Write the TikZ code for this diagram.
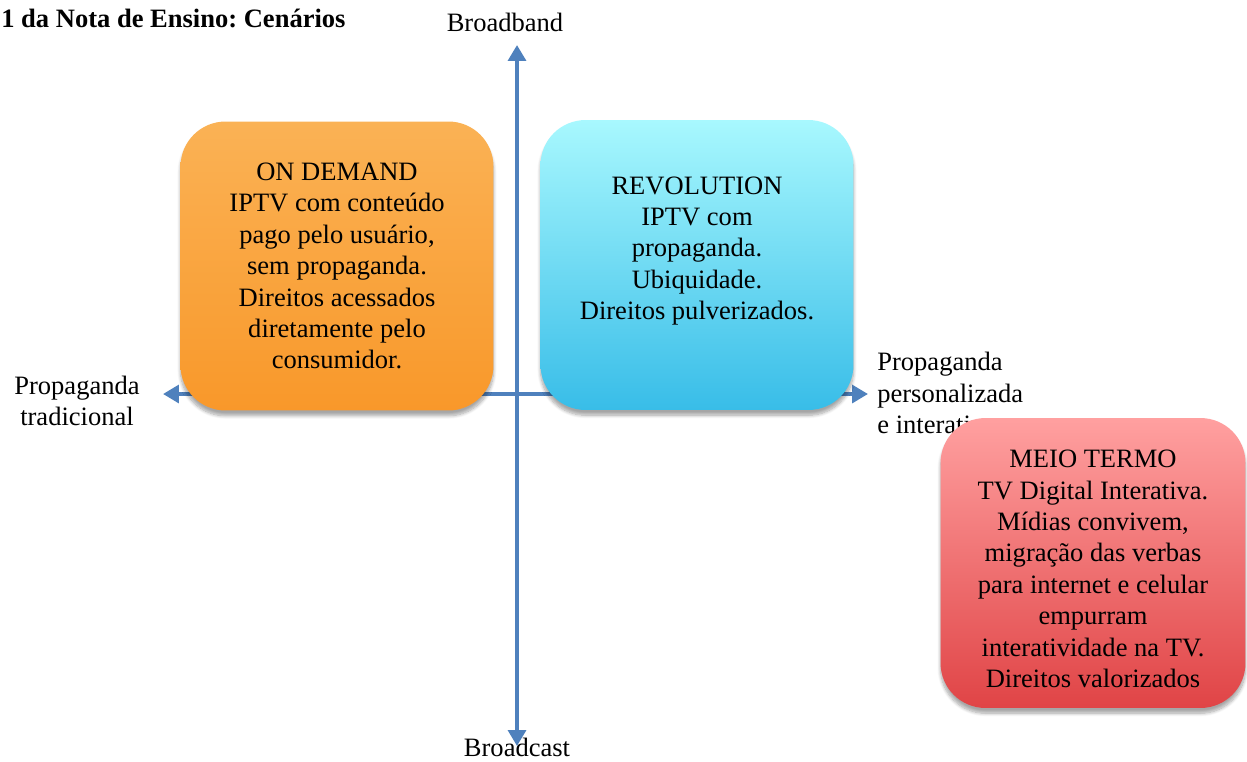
\documentclass[tikz,border=0pt]{standalone}
\usepackage{fontspec}
\setmainfont{Liberation Serif}
\usetikzlibrary{arrows.meta,shadows.blur}
\definecolor{axisblue}{RGB}{79,129,189}
\frenchspacing
\begin{document}
\begin{tikzpicture}[x=0.02cm,y=-0.02cm,
  font=\fontsize{15.1}{17.9}\selectfont,
  axis/.style={axisblue, line width=2.8pt, -{Triangle[width=10pt,length=9pt]}},
  box/.style={rounded corners=0.9cm, minimum width=6.26cm, minimum height=5.78cm,
    blur shadow={shadow xshift=0pt, shadow yshift=-3pt, shadow blur steps=8, shadow opacity=35}},
  boxtext/.style={align=center, inner sep=0pt},
  lbl/.style={inner sep=0pt}]
\useasboundingbox (0,0) rectangle (1247,761);
% titulo e eixos
\node[lbl, anchor=west, font=\fontsize{15.1}{17.9}\selectfont\bfseries] (title) at (1,18) {1 da Nota de Ensino: Cenários};
\node[lbl] (broadband) at (505,22) {Broadband};
\node[lbl] (broadcast) at (517,747) {Broadcast};
\node[lbl, align=center] (tradicional) at (77,401) {Propaganda\\ tradicional};
\node[lbl, align=left, anchor=west] (personalizada) at (877,393) {Propaganda\\personalizada\\e interativa};
\coordinate (origin) at (517,394);
\coordinate (top) at (517,45);
\coordinate (bottom) at (517,746);
\coordinate (left) at (163,394);
\coordinate (right) at (868,394);
\draw[axis] (origin) -- (top);
\draw[axis] (origin) -- (bottom);
\draw[axis] (origin) -- (left);
\draw[axis] (origin) -- (right);
% cenarios
\node[box, top color={rgb,255:red,250;green,178;blue,85}, bottom color={rgb,255:red,249;green,152;blue,42}] (ondemand) at (337,266) {};
\node[box, minimum height=5.8cm, top color={rgb,255:red,168;green,248;blue,254}, bottom color={rgb,255:red,56;green,189;blue,232}] (revolution) at (697,265) {};
\node[box, minimum width=6.1cm, minimum height=5.8cm, top color={rgb,255:red,255;green,160;blue,160}, bottom color={rgb,255:red,224;green,68;blue,70}] (meiotermo) at (1093,563) {};
\node[boxtext] (ondemandtext) at (337,266) {ON DEMAND\\IPTV com conteúdo\\pago pelo usuário,\\sem propaganda.\\Direitos acessados\\diretamente pelo\\consumidor.};
\node[boxtext] (revolutiontext) at (697,251) {REVOLUTION\\IPTV com\\propaganda.\\Ubiquidade.\\Direitos pulverizados.};
\node[boxtext] (meiotermotext) at (1093,569) {MEIO TERMO\\TV Digital Interativa.\\Mídias convivem,\\migração das verbas\\para internet e celular\\empurram\\interatividade na TV.\\Direitos valorizados};
\end{tikzpicture}
\end{document}
